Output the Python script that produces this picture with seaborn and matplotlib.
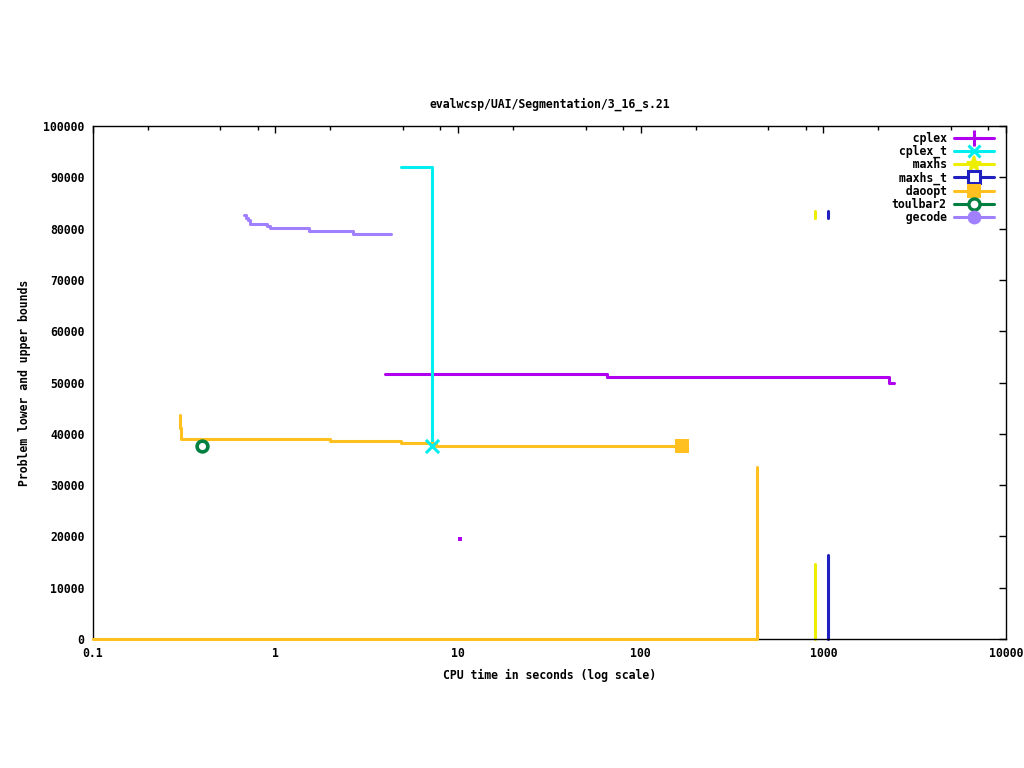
import matplotlib
matplotlib.use("Agg")
import matplotlib.pyplot as plt
from matplotlib.lines import Line2D
from matplotlib.ticker import LogLocator, FixedLocator, FuncFormatter, NullFormatter
import seaborn as sns
import pandas as pd

# ---------------- data ----------------
cplex_time = [4.0, 65.0, 2300.0, 2450.0]
cplex_ub = [51600, 51150, 50000, 50000]
cplex_pt_time = [10.25]
cplex_pt_val = [19500]

cplex_t_time = [4.87, 7.2, 7.2]
cplex_t_ub = [92000, 92000, 37700]

maxhs_ub_time = [902, 902]
maxhs_ub = [83400, 82000]
maxhs_lb_time = [902, 902]
maxhs_lb = [0, 14600]

maxhs_t_ub_time = [1062, 1062]
maxhs_t_ub = [83400, 82000]
maxhs_t_lb_time = [1062, 1062]
maxhs_t_lb = [0, 16400]

daoopt_ub_time = [0.300, 0.302, 0.305, 1.99, 4.87, 7.6, 168]
daoopt_ub = [43700, 41100, 38950, 38650, 38270, 37620, 37620]
daoopt_lb_time = [0.1, 431, 431]
daoopt_lb = [0, 0, 33500]

toulbar2_time = [0.397]
toulbar2_val = [37600]

gecode_time = [0.673, 0.690, 0.706, 0.724, 0.90, 0.935, 1.53, 2.65, 4.30]
gecode_ub = [82650, 82070, 81680, 80900, 80500, 80120, 79530, 78950, 78950]

labels = ["cplex", "cplex_t", "maxhs", "maxhs_t", "daoopt", "toulbar2", "gecode"]
colors = {"cplex": "#b000f0", "cplex_t": "#00eeee", "maxhs": "#eeee00",
          "maxhs_t": "#2020c0", "daoopt": "#ffc020", "toulbar2": "#008040",
          "gecode": "#a080ff"}

x_ticks = [0.1, 1, 10, 100, 1000, 10000]
y_ticks = list(range(0, 100001, 10000))

# ---------------- style ----------------
sns.set_theme(style="white")
plt.rcParams["font.family"] = ["DejaVu Sans Mono"]
plt.rcParams["font.weight"] = "bold"
plt.rcParams["text.color"] = "black"
plt.rcParams["axes.labelcolor"] = "black"
plt.rcParams["xtick.color"] = "black"
plt.rcParams["ytick.color"] = "black"
FS = 8.3

fig = plt.figure(figsize=(10.24, 7.68), dpi=100)
ax = fig.add_axes([92.7 / 1024, 1 - 639 / 768, (1006 - 92.7) / 1024, (639 - 126) / 768])

LW = 2.2


def steps(x, y, color, **kw):
    df = pd.DataFrame({"t": x, "v": y})
    sns.lineplot(data=df, x="t", y="v", ax=ax, color=color, lw=LW, sort=False,
                 estimator=None, drawstyle="steps-post", legend=False, **kw)


steps(cplex_time, cplex_ub, colors["cplex"])
sns.scatterplot(x=cplex_pt_time, y=cplex_pt_val, ax=ax, color=colors["cplex"],
                marker="s", s=6, linewidth=0, legend=False)
steps(cplex_t_time, cplex_t_ub, colors["cplex_t"])
sns.scatterplot(x=[cplex_t_time[-1]], y=[cplex_t_ub[-1]], ax=ax, color=colors["cplex_t"],
                marker="x", s=90, linewidth=2.2, legend=False, zorder=5)
steps(maxhs_ub_time, maxhs_ub, colors["maxhs"])
steps(maxhs_lb_time, maxhs_lb, colors["maxhs"], clip_on=False)
steps(maxhs_t_ub_time, maxhs_t_ub, colors["maxhs_t"])
steps(maxhs_t_lb_time, maxhs_t_lb, colors["maxhs_t"], clip_on=False)
steps(daoopt_ub_time, daoopt_ub, colors["daoopt"])
steps(daoopt_lb_time, daoopt_lb, colors["daoopt"], clip_on=False, zorder=4)
sns.scatterplot(x=[daoopt_ub_time[-1]], y=[daoopt_ub[-1]], ax=ax, color=colors["daoopt"],
                marker="s", s=110, linewidth=0, legend=False, zorder=5)
sns.scatterplot(x=toulbar2_time, y=toulbar2_val, ax=ax, facecolor="white",
                edgecolor=colors["toulbar2"], marker="o", s=60, linewidth=2.6,
                legend=False, zorder=5)
steps(gecode_time, gecode_ub, colors["gecode"])

# ---------------- axes ----------------
ax.set_xscale("log")
ax.set_xlim(0.1, 10000)
ax.set_ylim(0, 100000)
ax.xaxis.set_major_locator(FixedLocator(x_ticks))
ax.xaxis.set_major_formatter(FuncFormatter(lambda v, p: ("%g" % v)))
ax.xaxis.set_minor_locator(LogLocator(base=10, subs=[2, 5, 8]))
ax.xaxis.set_minor_formatter(NullFormatter())
ax.yaxis.set_major_locator(FixedLocator(y_ticks))
ax.yaxis.set_major_formatter(FuncFormatter(lambda v, p: "%d" % v))

for sp in ax.spines.values():
    sp.set_visible(True)
    sp.set_color("black")
    sp.set_linewidth(1.0)

ax.tick_params(which="major", direction="in", length=5, width=1, top=True, right=True,
               labelsize=FS, colors="black", pad=6)
ax.tick_params(which="minor", direction="in", length=3, width=1, top=True, right=True)
ax.tick_params(axis="y", pad=6)
for t in ax.get_xticklabels() + ax.get_yticklabels():
    t.set_fontweight("bold")

ax.set_xlabel("CPU time in seconds (log scale)", fontsize=FS, fontweight="bold", labelpad=6)
ax.set_ylabel("Problem lower and upper bounds", fontsize=FS, fontweight="bold", labelpad=9)
ax.set_title("evalwcsp/UAI/Segmentation/3_16_s.21", fontsize=FS, fontweight="bold", pad=13)

# ---------------- legend ----------------
mk = {"cplex": dict(marker="+", ms=11, mew=2.2),
      "cplex_t": dict(marker="x", ms=9, mew=2.2),
      "maxhs": dict(marker="*", ms=11, mew=1.5),
      "maxhs_t": dict(marker="s", ms=8, mew=2.2, mfc="white"),
      "daoopt": dict(marker="s", ms=10, mew=0),
      "toulbar2": dict(marker="o", ms=8, mew=2.4, mfc="white"),
      "gecode": dict(marker="o", ms=10, mew=0)}
handles = [Line2D([0], [0], color=colors[k], lw=LW, **mk[k]) for k in labels]
width = max(len(k) for k in labels)
leg_labels = [k.rjust(width) for k in labels]
leg = ax.legend(handles, leg_labels, loc="upper right",
                bbox_to_anchor=(994 / 1024, 1 - 132 / 768),
                bbox_transform=fig.transFigure, frameon=False, markerfirst=False,
                handlelength=3.5, handletextpad=0.6, labelspacing=0.0,
                borderaxespad=0, borderpad=0, prop={"weight": "bold", "size": FS})

fig.savefig("out.png", dpi=100, facecolor="white")
